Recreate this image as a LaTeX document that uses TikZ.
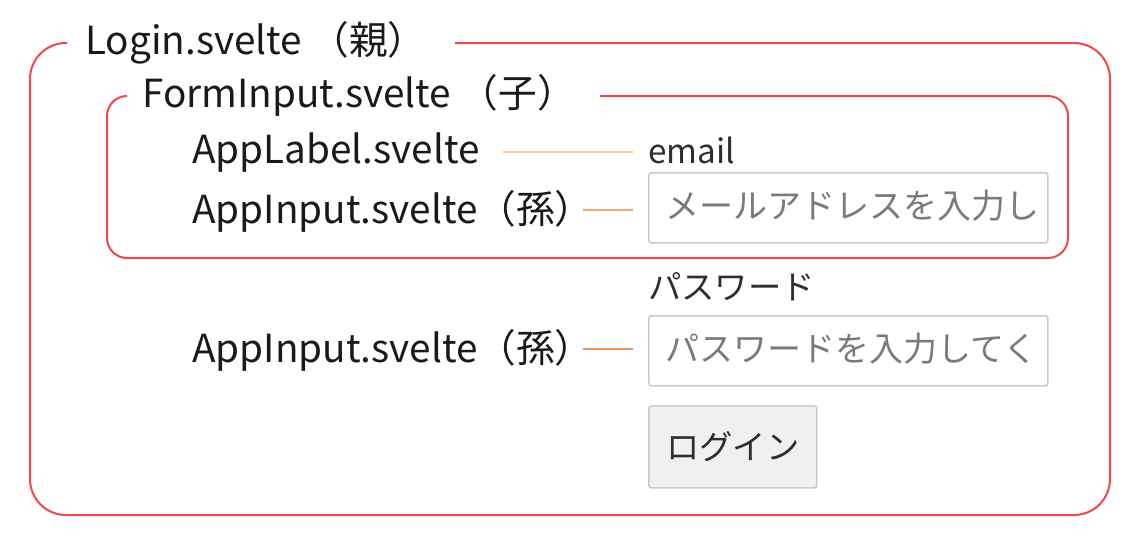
\documentclass[tikz,border=0pt]{standalone}
\usepackage{fontspec}
\setmainfont{Noto Sans CJK JP}
\definecolor{boxred}{HTML}{F24848}
\definecolor{peachlight}{HTML}{F7C6A6}
\definecolor{peach}{HTML}{F2A678}
\definecolor{peachdark}{HTML}{EE9258}
\definecolor{inborder}{HTML}{CCCCCC}
\definecolor{btnfill}{HTML}{F0F0F0}
\definecolor{txtdark}{HTML}{1A1A1A}
\definecolor{txtweb}{HTML}{2E2E2E}
\definecolor{txtph}{HTML}{7A7A7A}
\begin{document}
\begin{tikzpicture}[x=0.75pt,y=-0.75pt,
  redframe/.style={draw=boxred,line width=1.5pt},
  complabel/.style={anchor=base west,inner sep=0pt,text=txtdark,font=\fontsize{29}{33}\selectfont},
  webtext/.style={anchor=base west,inner sep=0pt,text=txtweb,font=\fontsize{25}{29}\selectfont},
  phtext/.style={anchor=base west,inner sep=0pt,text=txtph,font=\fontsize{25.5}{29}\selectfont},
  inputbox/.style={anchor=north west,draw=inborder,line width=1.3pt,rounded corners=2pt,inner sep=0pt,minimum width=299.25pt,minimum height=52.5pt},
  btnbox/.style={anchor=north west,draw=inborder,fill=btnfill,line width=1.3pt,rounded corners=2pt,inner sep=0pt,minimum width=126pt,minimum height=61.5pt,text=txtweb,font=\fontsize{25}{29}\selectfont},
  linkline/.style={line width=1.1pt,shorten >=11.25pt}]
\useasboundingbox (0,0) rectangle (1142,546);
% labels
\node[complabel] (login) at (85,54) {Login.svelte （親）};
\node[complabel] (forminput) at (142,107) {FormInput.svelte （子）};
\node[complabel] (applabel) at (192,163) {AppLabel.svelte};
\node[complabel] (appinput1) at (192,223) {AppInput.svelte（孫）};
\node[complabel] (appinput2) at (192,362) {AppInput.svelte（孫）};
% frames
\draw[redframe,rounded corners=27pt] (455,43) -- (1110,43) -- (1110,515) -- (30,515) -- (30,43) -- (67,43);
\draw[redframe,rounded corners=15pt] (600,96) -- (1068,96) -- (1068,258) -- (107,258) -- (107,96) -- (126,96);
% web elements
\node[webtext] (email) at (648,163) {email};
\node[inputbox] (in1) at (648,172) {};
\begin{scope}
\clip (in1.north west) rectangle (1036,242);
\node[phtext] (ph1) at (665,218) {メールアドレスを入力し};
\end{scope}
\node[webtext] (pwlabel) at (648,299) {パスワード};
\node[inputbox] (in2) at (648,315) {};
\begin{scope}
\clip (in2.north west) rectangle (1036,385);
\node[phtext] (ph2) at (665,361) {パスワードを入力してく};
\end{scope}
\node[btnbox] (btn) at (648,405) {ログイン};
% connectors
\coordinate (c1s) at (503,152);
\coordinate (c2s) at (583,210);
\coordinate (c3s) at (583,349);
\draw[linkline,draw=peachlight] (c1s) -- (c1s -| in1.west);
\draw[linkline,draw=peach] (c2s) -- (c2s -| in1.west);
\draw[linkline,draw=peachdark] (c3s) -- (c3s -| in2.west);
\end{tikzpicture}
\end{document}
